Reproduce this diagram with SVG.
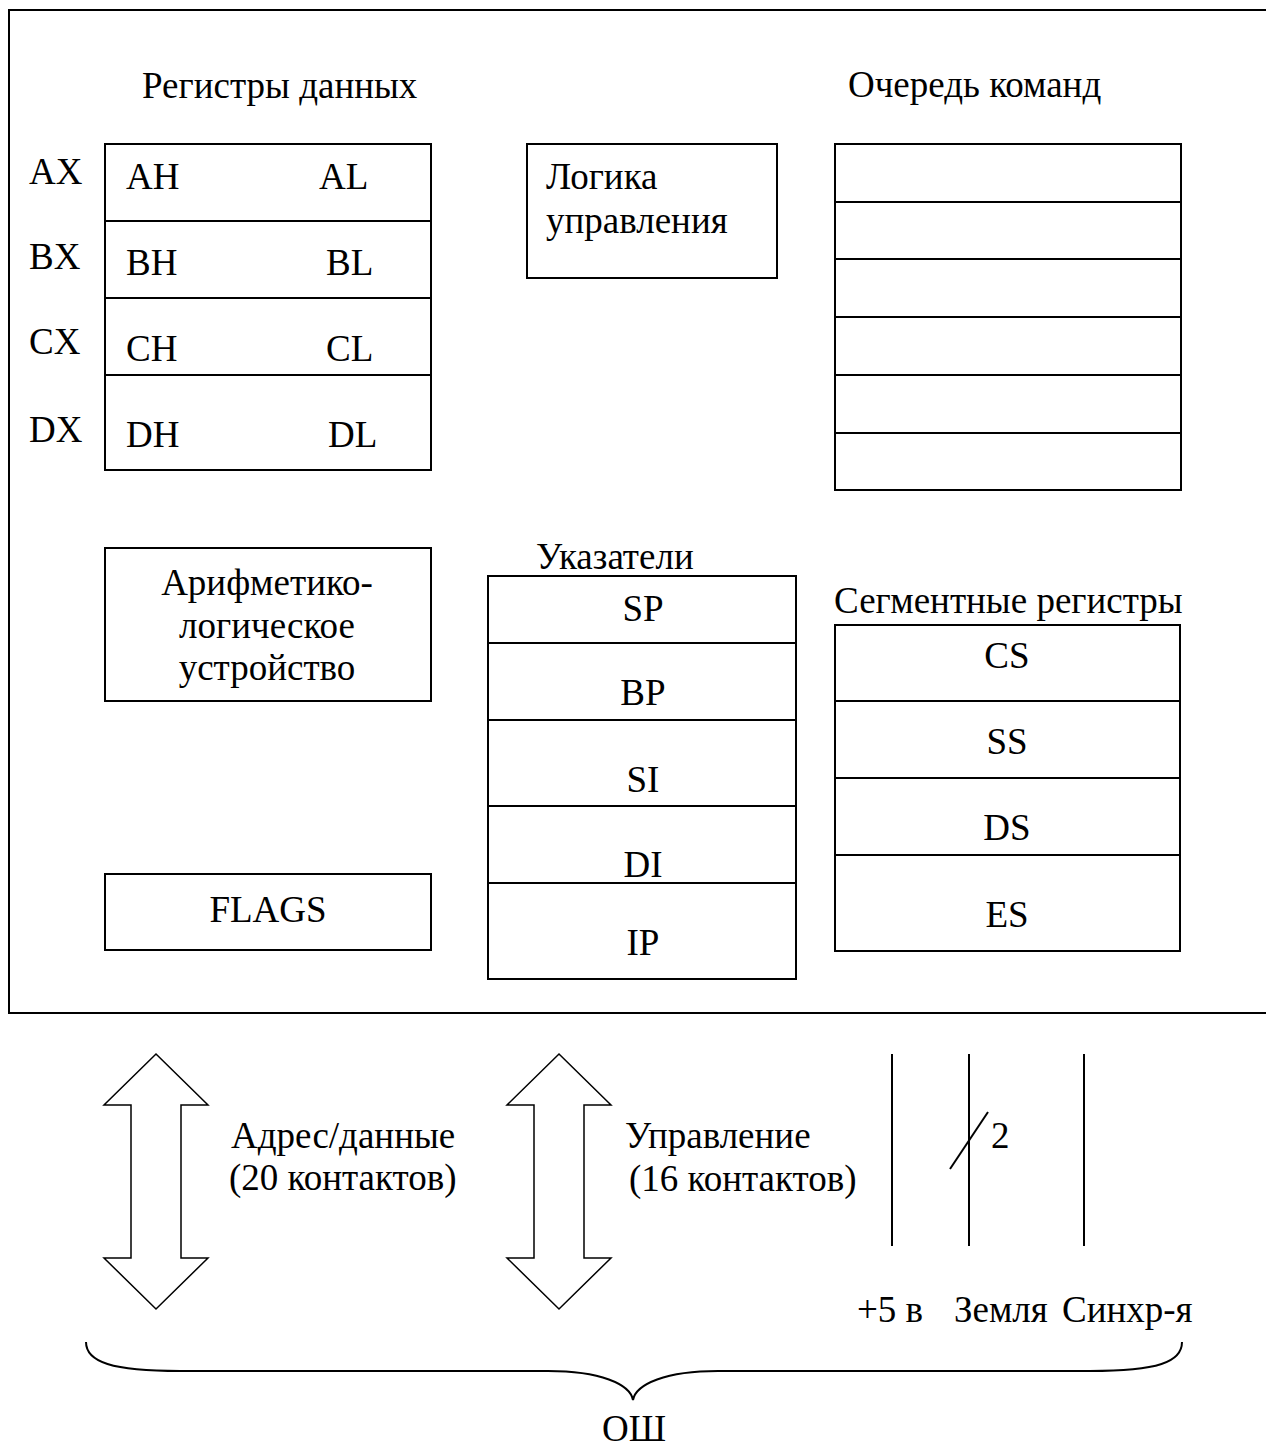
<svg xmlns="http://www.w3.org/2000/svg" width="1266" height="1450" viewBox="0 0 1266 1450">
  <style>
    text { font-family: "Liberation Serif", "Times New Roman", serif; font-size: 37px; fill: #000; }
    .mid { text-anchor: middle; }
    .box { fill: #fff; stroke: #000; stroke-width: 2; }
    .div { stroke: #000; stroke-width: 2; fill: none; }
    .bus { fill: #fff; stroke: #000; stroke-width: 1.5; stroke-linejoin: miter; }
    .wire { stroke: #000; stroke-width: 2; fill: none; }
  </style>
  <rect width="1266" height="1450" fill="#fff"/>

  <!-- processor outline (open on the right) -->
  <g id="cpu-frame">
    <path d="M1266,10 L9,10 L9,1013 L1266,1013" class="div"/>
  </g>

  <!-- general purpose data registers -->
  <g id="data-registers">
    <text x="142" y="98">Регистры данных</text>
    <rect x="105" y="144" width="326" height="326" class="box"/>
    <line x1="105" y1="221" x2="431" y2="221" class="div"/>
    <line x1="105" y1="298" x2="431" y2="298" class="div"/>
    <line x1="105" y1="375" x2="431" y2="375" class="div"/>
    <text x="29" y="184">AX</text>
    <text x="29" y="269">BX</text>
    <text x="29" y="354">CX</text>
    <text x="29" y="442">DX</text>
    <text x="126" y="189">AH</text>
    <text x="319" y="189">AL</text>
    <text x="126" y="275">BH</text>
    <text x="326" y="275">BL</text>
    <text x="126" y="361">CH</text>
    <text x="326" y="361">CL</text>
    <text x="126" y="447">DH</text>
    <text x="328" y="447">DL</text>
  </g>

  <!-- control logic -->
  <g id="control-logic">
    <rect x="527" y="144" width="250" height="134" class="box"/>
    <text x="546" y="189">Логика</text>
    <text x="546" y="233">управления</text>
  </g>

  <!-- instruction queue -->
  <g id="instruction-queue">
    <text x="848" y="97">Очередь команд</text>
    <rect x="835" y="144" width="346" height="346" class="box"/>
    <line x1="835" y1="202" x2="1181" y2="202" class="div"/>
    <line x1="835" y1="259" x2="1181" y2="259" class="div"/>
    <line x1="835" y1="317" x2="1181" y2="317" class="div"/>
    <line x1="835" y1="375" x2="1181" y2="375" class="div"/>
    <line x1="835" y1="433" x2="1181" y2="433" class="div"/>
  </g>

  <!-- arithmetic logic unit -->
  <g id="alu">
    <rect x="105" y="548" width="326" height="153" class="box"/>
    <text x="267" y="595" class="mid">Арифметико-</text>
    <text x="267" y="638" class="mid">логическое</text>
    <text x="267" y="680" class="mid">устройство</text>
  </g>

  <!-- flags register -->
  <g id="flags">
    <rect x="105" y="874" width="326" height="76" class="box"/>
    <text x="268" y="922" class="mid">FLAGS</text>
  </g>

  <!-- pointer and index registers -->
  <g id="pointers">
    <text x="536" y="569">Указатели</text>
    <rect x="488" y="576" width="308" height="403" class="box"/>
    <line x1="488" y1="643" x2="796" y2="643" class="div"/>
    <line x1="488" y1="720" x2="796" y2="720" class="div"/>
    <line x1="488" y1="806" x2="796" y2="806" class="div"/>
    <line x1="488" y1="883" x2="796" y2="883" class="div"/>
    <text x="643" y="621" class="mid">SP</text>
    <text x="643" y="705" class="mid">BP</text>
    <text x="643" y="792" class="mid">SI</text>
    <text x="643" y="877" class="mid">DI</text>
    <text x="643" y="955" class="mid">IP</text>
  </g>

  <!-- segment registers -->
  <g id="segment-registers">
    <text x="834" y="613">Сегментные регистры</text>
    <rect x="835" y="625" width="345" height="326" class="box"/>
    <line x1="835" y1="701" x2="1180" y2="701" class="div"/>
    <line x1="835" y1="778" x2="1180" y2="778" class="div"/>
    <line x1="835" y1="855" x2="1180" y2="855" class="div"/>
    <text x="1007" y="668" class="mid">CS</text>
    <text x="1007" y="754" class="mid">SS</text>
    <text x="1007" y="840" class="mid">DS</text>
    <text x="1007" y="927" class="mid">ES</text>
  </g>

  <!-- external bus lines -->
  <g id="connectors">
    <polygon class="bus" points="156,1054 208,1105 181,1105 181,1258 208,1258 156,1309 104,1258 131,1258 131,1105 104,1105"/>
    <polygon class="bus" points="559,1054 611,1105 584,1105 584,1258 611,1258 559,1309 507,1258 534,1258 534,1105 507,1105"/>
    <line x1="892" y1="1054" x2="892" y2="1246" class="wire"/>
    <line x1="969" y1="1054" x2="969" y2="1246" class="wire"/>
    <line x1="1084" y1="1054" x2="1084" y2="1246" class="wire"/>
    <line x1="950" y1="1169" x2="988" y2="1112" class="wire"/>
    <path class="wire" d="M86,1342 C86,1362 112,1371 180,1371 L548,1371 C600,1371 630,1384 633,1400 C636,1384 666,1371 718,1371 L1090,1371 C1158,1371 1182,1362 1182,1342"/>
  </g>

  <g id="bus-labels">
    <text x="231" y="1148">Адрес/данные</text>
    <text x="229" y="1190">(20 контактов)</text>
    <text x="625" y="1148">Управление</text>
    <text x="629" y="1191">(16 контактов)</text>
    <text x="991" y="1148">2</text>
    <text x="857" y="1322">+5 в</text>
    <text x="954" y="1322">Земля</text>
    <text x="1062" y="1322">Синхр-я</text>
    <text x="634" y="1441" class="mid">ОШ</text>
  </g>
</svg>
